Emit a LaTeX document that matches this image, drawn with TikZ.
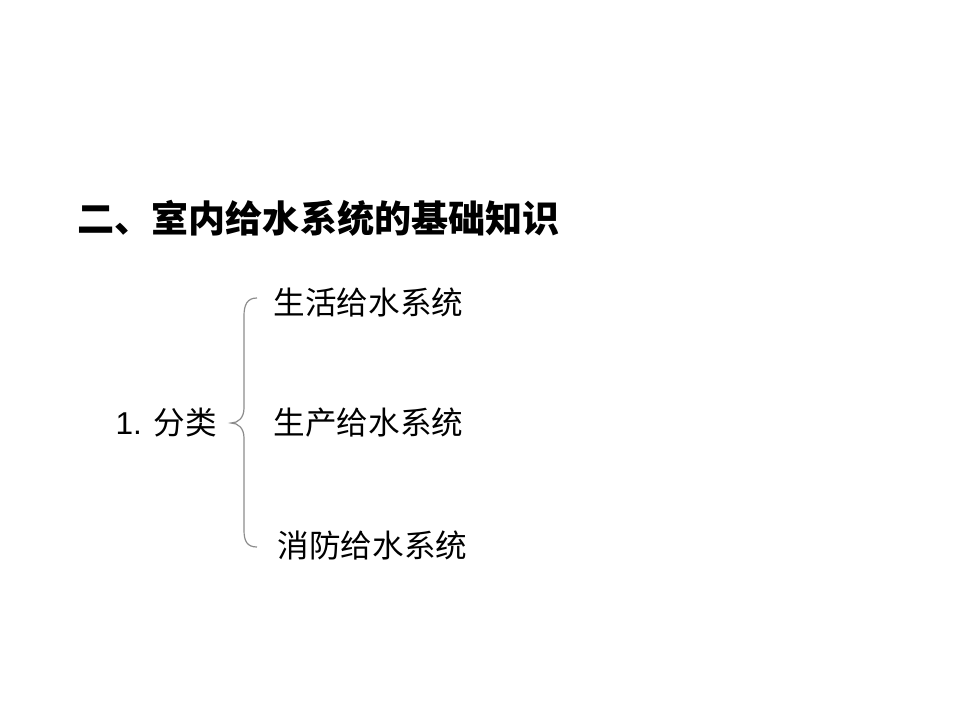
\documentclass[tikz,border=0pt]{standalone}
\usepackage{fontspec}
\setmainfont{Liberation Sans}
\newfontfamily\cjk{Noto Sans CJK SC}
\usetikzlibrary{positioning,calc}

\begin{document}
\begin{tikzpicture}
[x=0.75pt, y=-0.75pt, line width=0.9pt,
item/.style={anchor=west, inner sep=0pt, font=\fontsize{23.7}{28}\selectfont},
heading/.style={anchor=west, inner sep=0pt, font=\fontsize{27.8}{32}\selectfont\bfseries}]

\useasboundingbox (0,0) rectangle (960,720);

\node[heading] (title) at (77,218) {\cjk 二、室内给水系统的基础知识};

\node[item] (cls) at (115,423) {1. {\cjk 分类}};
\node[item] (life) at (273,302) {\cjk 生活给水系统};
\node[item] (prod) at (273,423) {\cjk 生产给水系统};
\node[item] (fire) at (277,545) {\cjk 消防给水系统};

% brace
\coordinate (bracetop) at (257,298);
\coordinate (bracemid) at (231,423);
\coordinate (bracebot) at (257,547);
\draw[draw=black!45] (bracetop) .. controls (247,298) and (244,305) .. (244,316)
  -- (244,408) .. controls (244,418) and (238,423) .. (bracemid)
  .. controls (238,423) and (244,428) .. (244,438)
  -- (244,530) .. controls (244,541) and (247,547) .. (bracebot);
\end{tikzpicture}
\end{document}
